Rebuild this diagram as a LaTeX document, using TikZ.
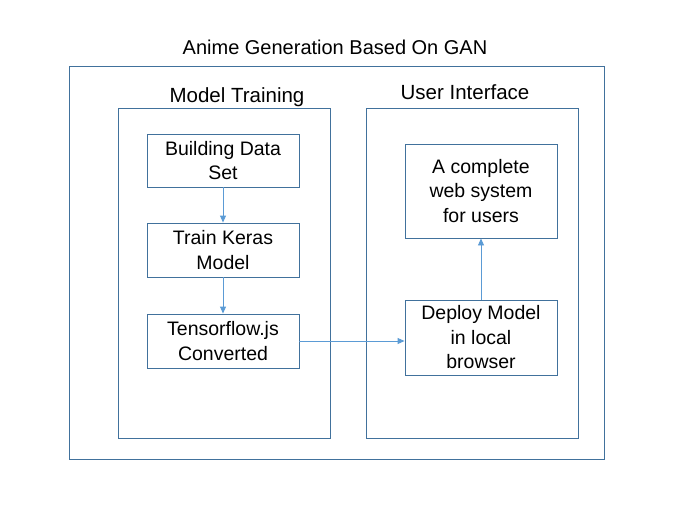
\documentclass[tikz,border=0pt]{standalone}
\usepackage{fontspec}
\setmainfont{Liberation Sans}
\usepackage{xcolor}
\usetikzlibrary{arrows.meta}
\definecolor{boxblue}{HTML}{41719C}
\definecolor{arrblue}{HTML}{5B9BD5}

\begin{document}
\begin{tikzpicture}[x=1pt,y=-1pt,
  panel/.style={draw=boxblue,line width=0.9pt},
  stagebox/.style={draw=boxblue,line width=0.9pt,align=center,font=\fontsize{19.5}{24.5}\selectfont,inner sep=0pt},
  flow/.style={draw=arrblue,line width=0.9pt,-{Triangle[length=7pt,width=6pt]}}]
\useasboundingbox(0,0)rectangle(693,514);
\draw[panel](69,66)rectangle(604,459);
\draw[panel](118,108)rectangle(330,438);
\draw[panel](366,108)rectangle(578,438);
\node[font=\fontsize{20}{24}\selectfont](title)at(335,47){Anime Generation Based On GAN};
\node[font=\fontsize{20.5}{24}\selectfont](train)at(237,97){Model Training};
\node[font=\fontsize{20.5}{24}\selectfont](ui)at(465,92){User Interface};
\node[stagebox,minimum width=152pt,minimum height=53pt](data)at(223,160.5){Building Data\\Set};
\node[stagebox,minimum width=152pt,minimum height=54pt](keras)at(223,250){Train Keras\\Model};
\node[stagebox,minimum width=152pt,minimum height=54pt](tfjs)at(223,341){Tensorflow.js\\Converted};
\node[stagebox,minimum width=152pt,minimum height=94pt](web)at(481,191){A complete\\web system\\for users};
\node[stagebox,minimum width=152pt,minimum height=75pt](deploy)at(481,337.5){Deploy Model\\in local\\browser};
\draw[flow](data)--(keras);
\draw[flow](keras)--(tfjs);
\draw[flow](tfjs.east)--(tfjs.east-|deploy.west);
\draw[flow](deploy)--(web);
\end{tikzpicture}
\end{document}
